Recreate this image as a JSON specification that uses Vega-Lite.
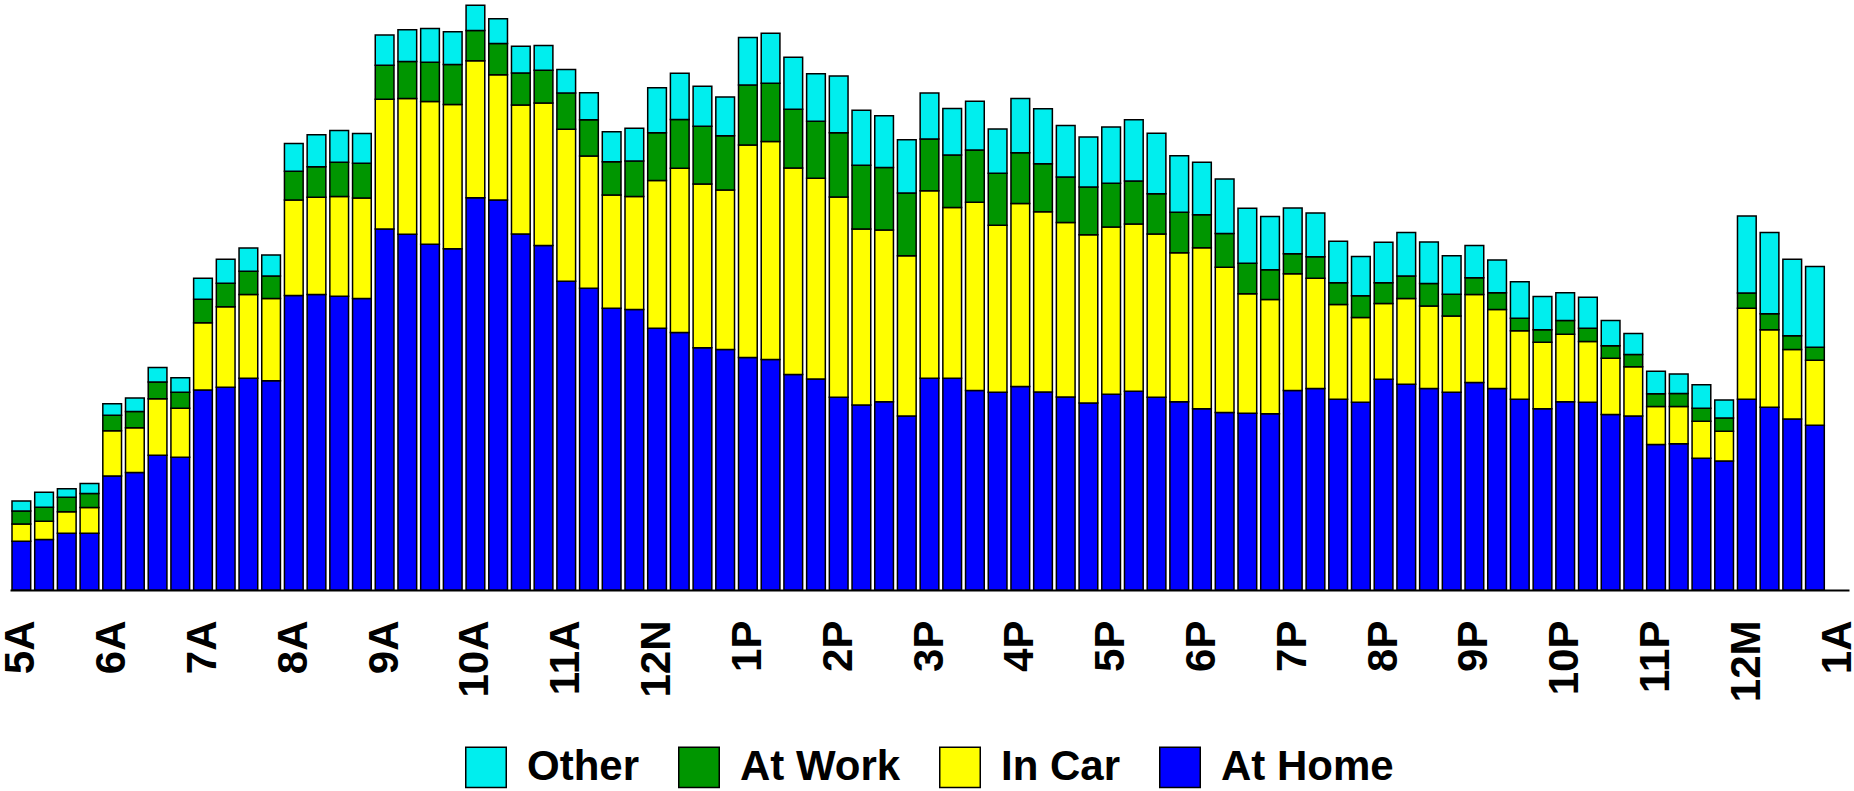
{
  "$schema": "https://vega.github.io/schema/vega-lite/v6.json",
  "autosize": {"type": "none"},
  "padding": {"left": 10, "top": 0, "right": 5, "bottom": 201},
  "width": 1839,
  "height": 590,
  "background": "white",
  "config": {
    "view": {"stroke": null},
    "font": "Liberation Sans",
    "legend": {"layout": {"bottom": {"anchor": "middle"}}}
  },
  "data": {
    "values": [
      {"t":"05:00","At Home":128,"In Car":45,"At Work":34,"Other":26},
      {"t":"05:15","At Home":132,"In Car":48,"At Work":37,"Other":39},
      {"t":"05:30","At Home":149,"In Car":56,"At Work":38,"Other":22},
      {"t":"05:45","At Home":149,"In Car":67,"At Work":37,"Other":26},
      {"t":"06:00","At Home":299,"In Car":118,"At Work":41,"Other":30},
      {"t":"06:15","At Home":308,"In Car":117,"At Work":43,"Other":35},
      {"t":"06:30","At Home":353,"In Car":148,"At Work":44,"Other":38},
      {"t":"06:45","At Home":348,"In Car":128,"At Work":42,"Other":38},
      {"t":"07:00","At Home":524,"In Car":176,"At Work":62,"Other":55},
      {"t":"07:15","At Home":531,"In Car":211,"At Work":62,"Other":63},
      {"t":"07:30","At Home":555,"In Car":219,"At Work":61,"Other":61},
      {"t":"07:45","At Home":548,"In Car":216,"At Work":59,"Other":55},
      {"t":"08:00","At Home":772,"In Car":250,"At Work":75,"Other":73},
      {"t":"08:15","At Home":774,"In Car":255,"At Work":80,"Other":84},
      {"t":"08:30","At Home":770,"In Car":261,"At Work":90,"Other":83},
      {"t":"08:45","At Home":764,"In Car":263,"At Work":91,"Other":78},
      {"t":"09:00","At Home":946,"In Car":340,"At Work":89,"Other":79},
      {"t":"09:15","At Home":932,"In Car":356,"At Work":97,"Other":83},
      {"t":"09:30","At Home":906,"In Car":374,"At Work":103,"Other":88},
      {"t":"09:45","At Home":894,"In Car":378,"At Work":105,"Other":86},
      {"t":"10:00","At Home":1028,"In Car":359,"At Work":79,"Other":66},
      {"t":"10:15","At Home":1022,"In Car":328,"At Work":82,"Other":65},
      {"t":"10:30","At Home":933,"In Car":338,"At Work":84,"Other":70},
      {"t":"10:45","At Home":903,"In Car":373,"At Work":86,"Other":65},
      {"t":"11:00","At Home":809,"In Car":398,"At Work":95,"Other":62},
      {"t":"11:15","At Home":791,"In Car":346,"At Work":95,"Other":71},
      {"t":"11:30","At Home":738,"In Car":297,"At Work":87,"Other":79},
      {"t":"11:45","At Home":735,"In Car":296,"At Work":93,"Other":86},
      {"t":"12:00","At Home":686,"In Car":387,"At Work":125,"Other":118},
      {"t":"12:15","At Home":675,"In Car":430,"At Work":128,"Other":121},
      {"t":"12:30","At Home":635,"In Car":429,"At Work":151,"Other":105},
      {"t":"12:45","At Home":630,"In Car":418,"At Work":142,"Other":102},
      {"t":"13:00","At Home":609,"In Car":557,"At Work":157,"Other":125},
      {"t":"13:15","At Home":604,"In Car":571,"At Work":153,"Other":131},
      {"t":"13:30","At Home":565,"In Car":541,"At Work":154,"Other":136},
      {"t":"13:45","At Home":553,"In Car":526,"At Work":149,"Other":125},
      {"t":"14:00","At Home":505,"In Car":525,"At Work":168,"Other":149},
      {"t":"14:15","At Home":485,"In Car":461,"At Work":167,"Other":144},
      {"t":"14:30","At Home":493,"In Car":450,"At Work":164,"Other":136},
      {"t":"14:45","At Home":456,"In Car":420,"At Work":164,"Other":140},
      {"t":"15:00","At Home":555,"In Car":491,"At Work":136,"Other":120},
      {"t":"15:15","At Home":555,"In Car":447,"At Work":138,"Other":122},
      {"t":"15:30","At Home":523,"In Car":493,"At Work":137,"Other":128},
      {"t":"15:45","At Home":518,"In Car":438,"At Work":136,"Other":116},
      {"t":"16:00","At Home":533,"In Car":480,"At Work":133,"Other":142},
      {"t":"16:15","At Home":519,"In Car":472,"At Work":126,"Other":144},
      {"t":"16:30","At Home":506,"In Car":457,"At Work":119,"Other":135},
      {"t":"16:45","At Home":490,"In Car":441,"At Work":125,"Other":131},
      {"t":"17:00","At Home":513,"In Car":438,"At Work":115,"Other":147},
      {"t":"17:15","At Home":521,"In Car":438,"At Work":113,"Other":160},
      {"t":"17:30","At Home":505,"In Car":428,"At Work":105,"Other":159},
      {"t":"17:45","At Home":493,"In Car":391,"At Work":106,"Other":148},
      {"t":"18:00","At Home":475,"In Car":422,"At Work":86,"Other":138},
      {"t":"18:15","At Home":465,"In Car":381,"At Work":88,"Other":143},
      {"t":"18:30","At Home":463,"In Car":313,"At Work":80,"Other":144},
      {"t":"18:45","At Home":462,"In Car":299,"At Work":78,"Other":140},
      {"t":"19:00","At Home":523,"In Car":306,"At Work":52,"Other":120},
      {"t":"19:15","At Home":528,"In Car":289,"At Work":56,"Other":115},
      {"t":"19:30","At Home":500,"In Car":248,"At Work":57,"Other":109},
      {"t":"19:45","At Home":492,"In Car":222,"At Work":57,"Other":103},
      {"t":"20:00","At Home":552,"In Car":199,"At Work":54,"Other":106},
      {"t":"20:15","At Home":539,"In Car":225,"At Work":59,"Other":114},
      {"t":"20:30","At Home":528,"In Car":216,"At Work":59,"Other":109},
      {"t":"20:45","At Home":518,"In Car":200,"At Work":57,"Other":101},
      {"t":"21:00","At Home":544,"In Car":230,"At Work":44,"Other":85},
      {"t":"21:15","At Home":528,"In Car":207,"At Work":44,"Other":86},
      {"t":"21:30","At Home":500,"In Car":179,"At Work":33,"Other":96},
      {"t":"21:45","At Home":475,"In Car":174,"At Work":33,"Other":87},
      {"t":"22:00","At Home":493,"In Car":177,"At Work":36,"Other":73},
      {"t":"22:15","At Home":492,"In Car":159,"At Work":35,"Other":81},
      {"t":"22:30","At Home":460,"In Car":147,"At Work":33,"Other":66},
      {"t":"22:45","At Home":456,"In Car":129,"At Work":32,"Other":55},
      {"t":"23:00","At Home":381,"In Car":100,"At Work":33,"Other":59},
      {"t":"23:15","At Home":383,"In Car":98,"At Work":34,"Other":51},
      {"t":"23:30","At Home":345,"In Car":97,"At Work":34,"Other":62},
      {"t":"23:45","At Home":338,"In Car":78,"At Work":35,"Other":47},
      {"t":"00:00","At Home":500,"In Car":238,"At Work":40,"Other":202},
      {"t":"00:15","At Home":479,"In Car":203,"At Work":42,"Other":213},
      {"t":"00:30","At Home":448,"In Car":182,"At Work":36,"Other":201},
      {"t":"00:45","At Home":432,"In Car":170,"At Work":34,"Other":212}
    ]
  },
  "transform": [
    {"fold": ["At Home", "In Car", "At Work", "Other"], "as": ["category", "value"]},
    {
      "lookup": "category",
      "from": {
        "data": {"values": [
          {"category": "At Home", "k": 1},
          {"category": "In Car", "k": 2},
          {"category": "At Work", "k": 3},
          {"category": "Other", "k": 4}
        ]},
        "key": "category",
        "fields": ["k"]
      }
    }
  ],
  "mark": {"type": "bar", "stroke": "black", "strokeWidth": 1.5},
  "encoding": {
    "x": {
      "field": "t",
      "type": "ordinal",
      "scale": {
        "domain": ["05:00","05:15","05:30","05:45","06:00","06:15","06:30","06:45","07:00","07:15","07:30","07:45","08:00","08:15","08:30","08:45","09:00","09:15","09:30","09:45","10:00","10:15","10:30","10:45","11:00","11:15","11:30","11:45","12:00","12:15","12:30","12:45","13:00","13:15","13:30","13:45","14:00","14:15","14:30","14:45","15:00","15:15","15:30","15:45","16:00","16:15","16:30","16:45","17:00","17:15","17:30","17:45","18:00","18:15","18:30","18:45","19:00","19:15","19:30","19:45","20:00","20:15","20:30","20:45","21:00","21:15","21:30","21:45","22:00","22:15","22:30","22:45","23:00","23:15","23:30","23:45","00:00","00:15","00:30","00:45","01:00"],
        "paddingInner": 0.176,
        "paddingOuter": 0.088
      },
      "axis": {
        "title": null,
        "ticks": false,
        "grid": false,
        "domain": true,
        "domainColor": "black",
        "domainWidth": 2,
        "labelAngle": -90,
        "labelFontSize": 42,
        "labelFontWeight": "bold",
        "labelFont": "Liberation Sans",
        "labelColor": "black",
        "labelPadding": 30,
        "labelOverlap": false,
        "labelBound": false,
        "labelExpr": "substring(datum.value,3,5) != '00' ? '' : (toNumber(substring(datum.value,0,2)) == 0 ? '12M' : (toNumber(substring(datum.value,0,2)) == 12 ? '12N' : (toNumber(substring(datum.value,0,2)) > 12 ? (toNumber(substring(datum.value,0,2)) - 12) + 'P' : toNumber(substring(datum.value,0,2)) + 'A')))"
      }
    },
    "y": {
      "field": "value",
      "type": "quantitative",
      "aggregate": "sum",
      "stack": "zero",
      "scale": {"domain": [0, 1546], "nice": false, "zero": true},
      "axis": null
    },
    "color": {
      "field": "category",
      "type": "nominal",
      "scale": {
        "domain": ["Other", "At Work", "In Car", "At Home"],
        "range": ["#00EEEE", "#009600", "#FFFF00", "#0000FF"]
      },
      "legend": {
        "title": null,
        "orient": "bottom",
        "direction": "horizontal",
        "offset": 44,
        "padding": 0,
        "symbolType": "square",
        "symbolSize": 1640,
        "symbolStrokeColor": "black",
        "symbolStrokeWidth": 1.5,
        "symbolOpacity": 1,
        "labelFontSize": 42,
        "labelFontWeight": "bold",
        "labelFont": "Liberation Sans",
        "labelColor": "black",
        "labelOffset": 20,
        "labelLimit": 500,
        "columnPadding": 35
      }
    },
    "order": {"field": "k", "type": "quantitative", "sort": "ascending"}
  }
}
